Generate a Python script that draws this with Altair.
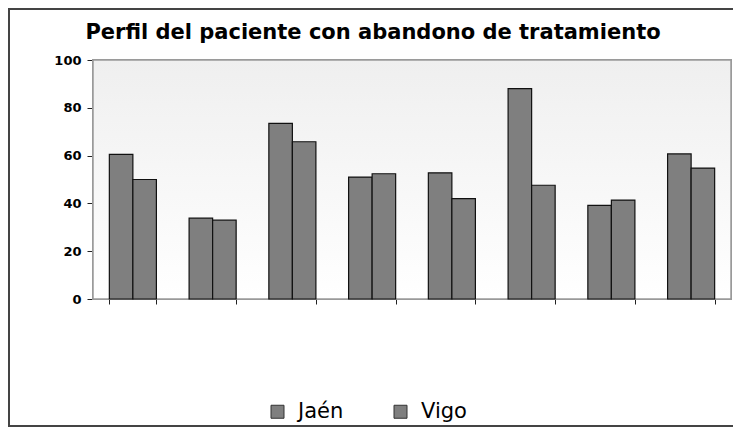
import altair as alt
import pandas as pd

categorias = ["1", "2", "3", "4", "5", "6", "7", "8"]
jaen = [60.5, 33.8, 73.5, 51.0, 52.8, 88.0, 39.2, 60.7]
vigo = [50.0, 33.0, 65.8, 52.4, 42.0, 47.6, 41.4, 54.8]
series = ["Jaén", "Vigo"]
titulo = "Perfil del paciente con abandono de tratamiento"

rows = []
for c, j, v in zip(categorias, jaen, vigo):
    rows.append({"cat": c, "serie": series[0], "valor": j})
    rows.append({"cat": c, "serie": series[1], "valor": v})
df = pd.DataFrame(rows)

W, H = 638, 239

fondo = alt.Chart(df).mark_rect(
    fill=alt.Gradient(
        gradient="linear", x1=0, y1=0, x2=0, y2=1,
        stops=[alt.GradientStop(color="#efefef", offset=0),
               alt.GradientStop(color="#ffffff", offset=1)],
    ),
    stroke="#9a9a9a", strokeWidth=1.5,
).encode(x=alt.value(0), x2=alt.value(W), y=alt.value(0), y2=alt.value(H))

marco = alt.Chart(df).mark_rect(
    fill=None, stroke="#444444", strokeWidth=1.5,
).encode(x=alt.value(-84), x2=alt.value(W + 40), y=alt.value(-51), y2=alt.value(H + 127))

barras = alt.Chart(df).mark_bar(stroke="#111111", strokeWidth=1.2, opacity=1).encode(
    x=alt.X("cat:N", sort=categorias, title=None,
            scale=alt.Scale(paddingInner=0.41, paddingOuter=0.205),
            axis=alt.Axis(labels=False, tickBand="extent", ticks=True, tickSize=5,
                          tickColor="#222222", domainColor="#222222", domainWidth=1.2,
                          grid=False)),
    xOffset=alt.XOffset("serie:N", sort=series),
    y=alt.Y("valor:Q", title=None,
            scale=alt.Scale(domain=[0, 100], nice=False),
            axis=alt.Axis(values=[0, 20, 40, 60, 80, 100], tickSize=6, grid=False,
                          tickColor="#222222", domainColor="#222222", domainWidth=1.2,
                          labelFont="DejaVu Sans", labelFontWeight="bold",
                          labelFontSize=13, labelColor="#000000", labelPadding=6)),
    color=alt.Color("serie:N", sort=series,
                    scale=alt.Scale(domain=series, range=["#7f7f7f", "#7f7f7f"]),
                    legend=alt.Legend(title=None, orient="none", legendX=174, legendY=341,
                                      direction="horizontal", symbolType="square",
                                      symbolSize=169, symbolStrokeColor="#333333",
                                      symbolStrokeWidth=1, symbolFillColor="#888888",
                                      labelFont="DejaVu Sans", labelFontSize=21,
                                      labelColor="#000000", labelOffset=10,
                                      columnPadding=46)),
)

chart = alt.layer(fondo, barras, marco).properties(
    width=W, height=H,
    title=alt.TitleParams(titulo, font="DejaVu Sans", fontSize=21, fontWeight="bold",
                          color="#000000", anchor="middle", frame="group", dx=-39,
                          offset=-52, baseline="alphabetic"),
    autosize=alt.AutoSizeParams(type="none"),
    padding={"left": 85, "top": 52, "right": 2, "bottom": 128},
    background="#ffffff",
).configure_view(stroke=None)

chart.save("out.html", embed_options={"renderer": "svg", "actions": False})
